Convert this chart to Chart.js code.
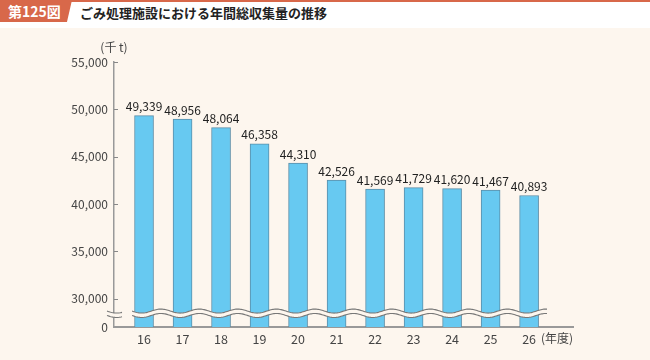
<!DOCTYPE html>
<html>
<head>
<meta charset="utf-8">
<script src="https://cdn.jsdelivr.net/npm/chart.js@4"></script>
<style>
  html, body { margin:0; padding:0; }
  body { width:650px; height:360px; position:relative; overflow:hidden;
    background: linear-gradient(#fff 0, #fff 28px, #fdf6ee 28px); font-family:"Noto Sans CJK JP", sans-serif; }
  #topline { position:absolute; left:0; top:0; width:650px; height:2px; background:#d8684a; }
  #badge { position:absolute; left:0; top:0; width:72px; height:22px; background:#d8684a;
    clip-path: polygon(0 0, 100% 0, 93% 100%, 0 100%);
    color:#fff; font-weight:bold; font-size:14px; line-height:22px; padding-left:8px; box-sizing:border-box; }
  #title { position:absolute; left:80px; top:3px; font-size:13px; font-weight:bold; color:#222; line-height:20px; }
  #c { position:absolute; left:0; top:0; }
</style>
</head>
<body>
<div id="topline"></div>
<div id="badge">第125図</div>
<div id="title">ごみ処理施設における年間総収集量の推移</div>
<canvas id="c" width="650" height="360"></canvas>
<script>
(() => {
  // data
  const years = [16, 17, 18, 19, 20, 21, 22, 23, 24, 25, 26];
  const totals = [49339, 48956, 48064, 46358, 44310, 42526, 41569, 41729, 41620, 41467, 40893];
  const yTicks = [30000, 35000, 40000, 45000, 50000, 55000];
  const yZero = 27000;   // where the broken axis shows "0"
  const yBreak = 28450;  // wavy break line

  const BG = '#fdf6ee';
  const FONT = '"Noto Sans CJK JP", sans-serif';

  const decor = {
    id: 'decor',
    afterDatasetsDraw(chart) {
      const ctx = chart.ctx;
      const x = chart.scales.x, y = chart.scales.y;
      const meta = chart.getDatasetMeta(0);

      // value labels
      ctx.save();
      ctx.fillStyle = '#222';
      ctx.font = '12px ' + FONT;
      ctx.textAlign = 'center';
      ctx.textBaseline = 'bottom';
      meta.data.forEach((bar, i) => {
        ctx.fillText(totals[i].toLocaleString('en-US'), bar.x, bar.y - 3);
      });
      ctx.restore();

      // inner tick marks on y axis
      ctx.save();
      ctx.strokeStyle = '#888';
      ctx.lineWidth = 1;
      yTicks.forEach(v => {
        const py = Math.round(y.getPixelForValue(v)) + 0.5;
        ctx.beginPath();
        ctx.moveTo(x.left, py);
        ctx.lineTo(x.left + 4, py);
        ctx.stroke();
      });
      ctx.restore();

      // wavy break
      const cy = y.getPixelForValue(yBreak);
      const period = 38.5, amp = 2, gap = 2.2;
      const wave = (x0, x1) => {
        const pts = [];
        for (let px = x0; px <= x1; px += 1) {
          pts.push([px, amp * Math.sin((px - x0) / period * Math.PI * 2)]);
        }
        ctx.save();
        ctx.beginPath();
        pts.forEach(([px, d], k) => k ? ctx.lineTo(px, cy - gap + d) : ctx.moveTo(px, cy - gap + d));
        for (let k = pts.length - 1; k >= 0; k--) ctx.lineTo(pts[k][0], cy + gap + pts[k][1]);
        ctx.closePath();
        ctx.fillStyle = BG;
        ctx.fill();
        ctx.strokeStyle = '#777';
        ctx.lineWidth = 1.1;
        ctx.beginPath();
        pts.forEach(([px, d], k) => k ? ctx.lineTo(px, cy - gap + d) : ctx.moveTo(px, cy - gap + d));
        ctx.stroke();
        ctx.beginPath();
        pts.forEach(([px, d], k) => k ? ctx.lineTo(px, cy + gap + d) : ctx.moveTo(px, cy + gap + d));
        ctx.stroke();
        ctx.restore();
      };
      wave(x.left - 7, x.left + 8);
      wave(x.getPixelForValue(years[0]) - 12, x.getPixelForValue(years[years.length - 1]) + 18);

      // unit labels
      ctx.save();
      ctx.fillStyle = '#444';
      ctx.font = '12px ' + FONT;
      ctx.textAlign = 'center';
      ctx.textBaseline = 'middle';
      ctx.fillText('(千 t)', x.left, 47);
      ctx.textAlign = 'right';
      ctx.fillText('(年度)', x.right, y.bottom + 11);
      ctx.restore();
    }
  };

  new Chart(document.getElementById('c'), {
    type: 'bar',
    data: {
      datasets: [{
        data: years.map((yr, i) => ({ x: yr, y: totals[i] })),
        backgroundColor: '#67c9f1',
        borderColor: '#5b8ea8',
        borderWidth: 1,
        borderSkipped: 'bottom',
        barThickness: 19
      }]
    },
    options: {
      responsive: false,
      animation: false,
      layout: { padding: { top: 62, right: 77, left: 0, bottom: 0 } },
      plugins: { legend: { display: false }, tooltip: { enabled: false } },
      scales: {
        x: {
          type: 'linear',
          offset: false,
          min: 15.22, max: 27.14,
          grid: { display: false, drawTicks: false, offset: false },
          border: { color: '#999', width: 2 },
          afterBuildTicks: s => { s.ticks = years.map(v => ({ value: v })); },
          afterFit: s => { s.height = 33; },
          ticks: { padding: 5, color: '#444', font: { family: FONT, size: 12.5 }, callback: v => String(v) }
        },
        y: {
          min: yZero, max: 55000,
          grid: { display: false, drawTicks: false },
          border: { color: '#999', width: 1.5 },
          afterBuildTicks: s => { s.ticks = [yZero, ...yTicks].map(v => ({ value: v })); },
          afterFit: s => { s.width = 114; },
          ticks: { padding: 6, color: '#444', font: { family: FONT, size: 12 },
            callback: v => v === yZero ? '0' : v.toLocaleString('en-US') }
        }
      }
    },
    plugins: [decor]
  });
})();
</script>
</body>
</html>
